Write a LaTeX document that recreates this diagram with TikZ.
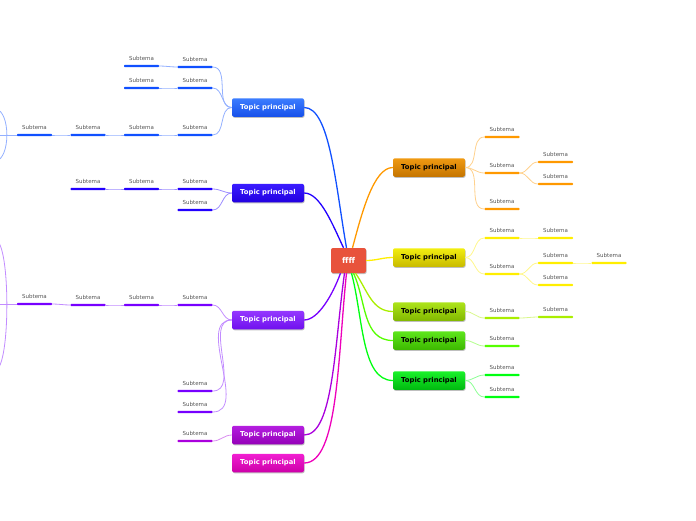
\documentclass[tikz,border=0pt]{standalone}
\usepackage{fontspec}
\setmainfont{DejaVu Sans}
\usetikzlibrary{shadows}
% bar colours
\definecolor{bBlue}{HTML}{1050FF}\definecolor{tBlue}{HTML}{3B7DFF}\definecolor{dBlue}{HTML}{1650EA}
\definecolor{bInd}{HTML}{2200FF}\definecolor{tInd}{HTML}{3A1CFF}\definecolor{dInd}{HTML}{2200E0}
\definecolor{bPur}{HTML}{7700FF}\definecolor{tPur}{HTML}{9438FF}\definecolor{dPur}{HTML}{7010EE}
\definecolor{bMag}{HTML}{AA00DD}\definecolor{tMag}{HTML}{B41EE0}\definecolor{dMag}{HTML}{9500B8}
\definecolor{bPnk}{HTML}{EE00BB}\definecolor{tPnk}{HTML}{F21ED2}\definecolor{dPnk}{HTML}{CC00A8}
\definecolor{bOra}{HTML}{FF9900}\definecolor{tOra}{HTML}{F09A12}\definecolor{dOra}{HTML}{C47400}
\definecolor{bYel}{HTML}{FFEE00}\definecolor{tYel}{HTML}{F2EE10}\definecolor{dYel}{HTML}{C8BA00}
\definecolor{bYg}{HTML}{AAEE00}\definecolor{tYg}{HTML}{ADE41A}\definecolor{dYg}{HTML}{82B800}
\definecolor{bLg}{HTML}{55FF00}\definecolor{tLg}{HTML}{5EE61C}\definecolor{dLg}{HTML}{3DB800}
\definecolor{bGrn}{HTML}{00FF11}\definecolor{tGrn}{HTML}{1AF22A}\definecolor{dGrn}{HTML}{00B810}
\definecolor{cRed}{HTML}{E8533C}
\definecolor{lblgray}{HTML}{555555}
\tikzset{
  topicbox/.style n args={3}{rounded corners=2pt, minimum width=72pt, minimum height=18.5pt,
    inner sep=0pt, top color=#1, bottom color=#2, draw=none, text=#3,
    font=\fontsize{6.8}{8}\selectfont\bfseries,
    drop shadow={shadow xshift=0.6pt, shadow yshift=-1pt, opacity=0.25, fill=black}},
  centerbox/.style={rounded corners=2pt, minimum width=35pt, minimum height=25pt, inner sep=0pt,
    fill=cRed, text=white, font=\fontsize{8}{9}\selectfont\bfseries,
    drop shadow={shadow xshift=0.6pt, shadow yshift=-1pt, opacity=0.25, fill=black}},
  sublabel/.style={text=lblgray, font=\fontsize{5.5}{6}\selectfont, inner sep=1pt},
  sub/.style={minimum width=35pt, minimum height=2.4pt, inner sep=0pt, fill=#1, rounded corners=0.8pt,
    label={[sublabel, label distance=3pt]above:Subtema}},
  mainline/.style={draw=#1, line width=1.3pt},
  subline/.style={draw=#1!45, line width=0.8pt},
}
\begin{document}
\begin{tikzpicture}[x=1pt,y=-1pt]
\useasboundingbox (0,0) rectangle (696,520);
\clip (0,0) rectangle (696,520);

% centre
\node[centerbox] (c) at (348.5,260.5) {ffff};

% topics
\node[topicbox={tBlue}{dBlue}{white}] (tb1) at (268,107.5) {Topic principal};
\node[topicbox={tInd}{dInd}{white}] (tb2) at (268,193) {Topic principal};
\node[topicbox={tPur}{dPur}{white}] (tp1) at (268,320) {Topic principal};
\node[topicbox={tMag}{dMag}{white}] (tp2) at (268,435) {Topic principal};
\node[topicbox={tPnk}{dPnk}{white}] (tp3) at (268,463) {Topic principal};
\node[topicbox={tOra}{dOra}{black}] (to) at (429,167.5) {Topic principal};
\node[topicbox={tYel}{dYel}{black}] (ty) at (429,257.5) {Topic principal};
\node[topicbox={tYg}{dYg}{black}] (tyg) at (429,311.5) {Topic principal};
\node[topicbox={tLg}{dLg}{black}] (tlg) at (429,340.5) {Topic principal};
\node[topicbox={tGrn}{dGrn}{black}] (tg) at (429,380.5) {Topic principal};

% main connectors
\draw[mainline=bBlue] ([xshift=-2pt]c.north) to[out=100,in=0,out looseness=1.1,in looseness=0.45] (tb1.east);
\draw[mainline=bInd] ([xshift=-5pt]c.north) to[out=115,in=0,out looseness=1,in looseness=0.6] (tb2.east);
\draw[mainline=bOra] ([xshift=4pt]c.north) to[out=75,in=180,out looseness=1,in looseness=0.55] (to.west);
\draw[mainline=bYel] (c.east) to[out=0,in=180] (ty.west);
\draw[mainline=bYg] ([xshift=7pt]c.south) to[out=-55,in=180] (tyg.west);
\draw[mainline=bLg] ([xshift=5pt]c.south) to[out=-65,in=180] (tlg.west);
\draw[mainline=bGrn] ([xshift=3pt]c.south) to[out=-75,in=180,in looseness=0.7] (tg.west);
\draw[mainline=bPur] ([xshift=-8pt]c.south) to[out=-110,in=0,in looseness=0.6] (tp1.east);
\draw[mainline=bMag] ([xshift=-4pt]c.south) to[out=-98,in=0,out looseness=1.1,in looseness=0.45] (tp2.east);
\draw[mainline=bPnk] ([xshift=-2pt]c.south) to[out=-96,in=0,out looseness=1.1,in looseness=0.45] (tp3.east);

% ---------- right side subtopics ----------
% orange
\node[sub=bOra] (o1) at (502,137) {};
\node[sub=bOra] (o2) at (502,173) {};
\node[sub=bOra] (o21) at (555.5,162) {};
\node[sub=bOra] (o22) at (555.5,184) {};
\node[sub=bOra] (o3) at (502,209) {};
\draw[subline=bOra] (to.east) to[out=0,in=180] (o1.west);
\draw[subline=bOra] (to.east) to[out=0,in=180] (o2.west);
\draw[subline=bOra] (to.east) to[out=0,in=180] (o3.west);
\draw[subline=bOra] (o2.east) to[out=0,in=180] (o21.west);
\draw[subline=bOra] (o2.east) to[out=0,in=180] (o22.west);
% yellow
\node[sub=bYel] (y1) at (502,238) {};
\node[sub=bYel] (y11) at (555.5,238) {};
\node[sub=bYel] (y2) at (502,274) {};
\node[sub=bYel] (y21) at (555.5,263) {};
\node[sub=bYel] (y211) at (609,263) {};
\node[sub=bYel] (y22) at (555.5,285) {};
\draw[subline=bYel] (ty.east) to[out=0,in=180] (y1.west);
\draw[subline=bYel] (ty.east) to[out=0,in=180] (y2.west);
\draw[subline=bYel] (y1.east) to[out=0,in=180] (y11.west);
\draw[subline=bYel] (y2.east) to[out=0,in=180] (y21.west);
\draw[subline=bYel] (y2.east) to[out=0,in=180] (y22.west);
\draw[subline=bYel] (y21.east) to[out=0,in=180] (y211.west);
% yellow-green
\node[sub=bYg] (g1) at (502,318) {};
\node[sub=bYg] (g11) at (555.5,317) {};
\draw[subline=bYg] (tyg.east) to[out=0,in=180] (g1.west);
\draw[subline=bYg] (g1.east) to[out=0,in=180] (g11.west);
% light green
\node[sub=bLg] (l1) at (502,346) {};
\draw[subline=bLg] (tlg.east) to[out=0,in=180] (l1.west);
% green
\node[sub=bGrn] (e1) at (502,375) {};
\node[sub=bGrn] (e2) at (502,397) {};
\draw[subline=bGrn] (tg.east) to[out=0,in=180] (e1.west);
\draw[subline=bGrn] (tg.east) to[out=0,in=180] (e2.west);

% ---------- left side subtopics ----------
% blue
\node[sub=bBlue] (b1) at (195,67) {};
\node[sub=bBlue] (b11) at (141.5,66) {};
\node[sub=bBlue] (b2) at (195,88) {};
\node[sub=bBlue] (b21) at (141.5,88) {};
\node[sub=bBlue] (b3) at (195,135) {};
\node[sub=bBlue] (b31) at (141.5,135) {};
\node[sub=bBlue] (b311) at (88,135) {};
\node[sub=bBlue] (b3111) at (34.5,135) {};
\draw[subline=bBlue] (tb1.west) to[out=180,in=0] (b1.east);
\draw[subline=bBlue] (tb1.west) to[out=180,in=0] (b2.east);
\draw[subline=bBlue] (tb1.west) to[out=180,in=0] (b3.east);
\draw[subline=bBlue] (b1.west) to[out=180,in=0] (b11.east);
\draw[subline=bBlue] (b2.west) to[out=180,in=0] (b21.east);
\draw[subline=bBlue] (b3.west) to[out=180,in=0] (b31.east);
\draw[subline=bBlue] (b31.west) to[out=180,in=0] (b311.east);
\draw[subline=bBlue] (b311.west) to[out=180,in=0] (b3111.east);
\coordinate (bx) at (-5,135);
\coordinate (bt) at (-4,109);
\coordinate (bb) at (-4,161);
\draw[subline=bBlue] (b3111.west) -- (bx);
\draw[subline=bBlue] (bt) .. controls (10.5,112) and (10.5,158) .. (bb);
% indigo
\node[sub=bInd] (i1) at (195,189) {};
\node[sub=bInd] (i11) at (141.5,189) {};
\node[sub=bInd] (i111) at (88,189) {};
\node[sub=bInd] (i2) at (195,210) {};
\draw[subline=bInd] (tb2.west) to[out=180,in=0] (i1.east);
\draw[subline=bInd] (tb2.west) to[out=180,in=0] (i2.east);
\draw[subline=bInd] (i1.west) to[out=180,in=0] (i11.east);
\draw[subline=bInd] (i11.west) to[out=180,in=0] (i111.east);
% purple
\node[sub=bPur] (p1) at (195,305) {};
\node[sub=bPur] (p11) at (141.5,305) {};
\node[sub=bPur] (p111) at (88,305) {};
\node[sub=bPur] (p1111) at (34.5,304) {};
\node[sub=bPur] (p2) at (195,391) {};
\node[sub=bPur] (p3) at (195,412) {};
\draw[subline=bPur] (tp1.west) to[out=180,in=0] (p1.east);
\draw[subline=bPur] (tp1.west) to[out=180,in=0] (p2.east);
\draw[subline=bPur] (tp1.west) to[out=180,in=0] (p3.east);
\draw[subline=bPur] (p1.west) to[out=180,in=0] (p11.east);
\draw[subline=bPur] (p11.west) to[out=180,in=0] (p111.east);
\draw[subline=bPur] (p111.west) to[out=180,in=0] (p1111.east);
\coordinate (px) at (-5,304);
\coordinate (pt) at (-4,240);
\coordinate (pb) at (-4,370);
\draw[subline=bPur] (p1111.west) -- (px);
\draw[subline=bPur] (pt) .. controls (10.5,245) and (10.5,365) .. (pb);
% magenta
\node[sub=bMag] (m1) at (195,441) {};
\draw[subline=bMag] (tp2.west) to[out=180,in=0] (m1.east);
\end{tikzpicture}
\end{document}
